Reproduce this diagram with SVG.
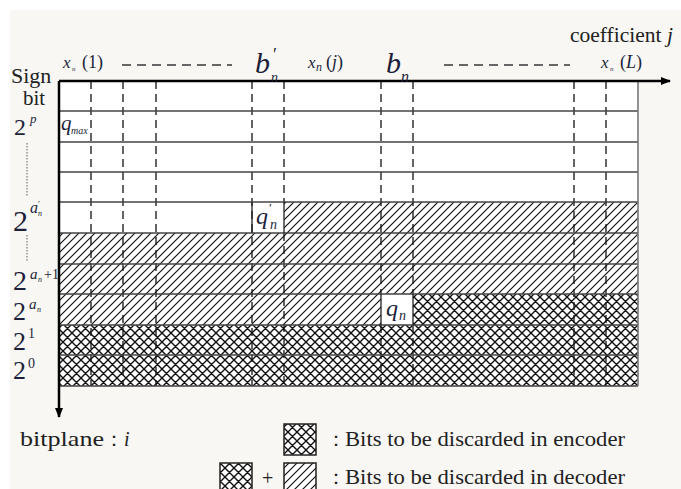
<svg xmlns="http://www.w3.org/2000/svg" width="681" height="489" viewBox="0 0 681 489">
<style>
text{font-family:"Liberation Serif","Times New Roman",serif;fill:#222}
.it{font-style:italic}
.lbl{fill:#1d1f3a}
.row{stroke:#444;stroke-width:1.6;fill:none}
.col{stroke:#111;stroke-width:1.3;stroke-dasharray:8 5;fill:none}
.dots{stroke:#777;stroke-width:1.2;stroke-dasharray:1.5 1.5}
.gap{stroke:#666;stroke-width:2;stroke-dasharray:9 6}
</style>
<defs>
<pattern id="hatch" patternUnits="userSpaceOnUse" width="8" height="8">
<rect width="8" height="8" fill="#fff"/>
<path d="M-2,2 L2,-2 M0,8 L8,0 M6,10 L10,6" stroke="#111" stroke-width="1.2"/>
</pattern>
<pattern id="cross" patternUnits="userSpaceOnUse" width="9" height="9">
<rect width="9" height="9" fill="#fff"/>
<path d="M-2,2 L2,-2 M0,9 L9,0 M7,11 L11,7 M-2,7 L2,11 M0,0 L9,9 M7,-2 L11,2" stroke="#111" stroke-width="1.4"/>
</pattern>
<marker id="arr" markerWidth="10" markerHeight="8" refX="9" refY="4" orient="auto" markerUnits="userSpaceOnUse">
<path d="M0,0 L10,4 L0,8 Z" fill="#000"/>
</marker>
</defs>
<rect width="681" height="489" fill="#fff"/>
<rect x="10" y="10" width="671" height="479" fill="#f8f7f3"/>

<g id="grid">
<rect x="59" y="81" width="579" height="305" fill="#fff"/>
<rect x="284" y="202" width="354" height="31" fill="url(#hatch)"/>
<rect x="59" y="233" width="579" height="61" fill="url(#hatch)"/>
<rect x="59" y="294" width="322" height="31" fill="url(#hatch)"/>
<rect x="413" y="294" width="225" height="31" fill="url(#cross)"/>
<rect x="59" y="325" width="579" height="61" fill="url(#cross)"/>
<path class="col" d="M91,81V386 M123,81V386 M156,81V386 M252,81V386 M284,81V202 M284,233V386 M381,81V294 M381,325V386 M413,81V294 M413,325V386 M574,81V386 M606,81V386"/>
<path class="row" d="M59,111H638 M59,142H638 M59,172H638 M59,202H638 M59,233H638 M59,264H638 M59,294H638 M59,325H638 M59,355H638 M59,386H638"/>
<path d="M252,202V233 M284,202V233 M381,294V325 M413,294V325" stroke="#222" stroke-width="1.3"/>
<path d="M638,81V386" stroke="#777" stroke-width="1.6"/>
</g>

<g id="axes">
<path d="M59,81H670" stroke="#000" stroke-width="2.5" marker-end="url(#arr)"/>
<path d="M59,81V417" stroke="#000" stroke-width="2.5" marker-end="url(#arr)"/>
</g>

<g id="cell-labels">
<text x="61" y="130" font-size="21" class="it lbl">q</text>
<text x="71" y="134" font-size="10" class="it lbl">max</text>
<text x="256" y="224" font-size="24" class="it lbl">q</text>
<text x="269" y="212" font-size="13" class="lbl">′</text>
<text x="270" y="229" font-size="14" class="it lbl">n</text>
<text x="386" y="316" font-size="24" class="it lbl">q</text>
<text x="399" y="320" font-size="14" class="it lbl">n</text>
</g>

<g id="top-labels">
<text x="63" y="68" font-size="17" class="it lbl">x</text>
<text x="72" y="71" font-size="7" class="it lbl">n</text>
<text x="82" y="68" font-size="18" class="lbl">(1)</text>
<path class="gap" d="M122,65H232"/>
<text x="255" y="73" font-size="30" class="it lbl">b</text>
<text x="273" y="61" font-size="18" class="lbl">′</text>
<text x="271" y="82" font-size="14" class="it lbl">n</text>
<text x="308" y="68" font-size="17" class="it lbl">x</text>
<text x="316" y="71" font-size="12" class="it lbl">n</text>
<text x="326" y="68" font-size="18" class="lbl">(<tspan class="it">j</tspan>)</text>
<text x="386" y="73" font-size="30" class="it lbl">b</text>
<text x="401" y="82" font-size="16" class="it lbl">n</text>
<path class="gap" d="M444,65H570"/>
<text x="601" y="68" font-size="17" class="it lbl">x</text>
<text x="610" y="71" font-size="7" class="it lbl">n</text>
<text x="620" y="68" font-size="18" class="lbl">(<tspan class="it">L</tspan>)</text>
<text x="570" y="42" font-size="21.5">coefficient <tspan class="it">j</tspan></text>
</g>

<g id="left-labels">
<text x="11" y="83" font-size="22">Sign</text>
<text x="23" y="105" font-size="21">bit</text>
<text x="14" y="135" font-size="24" class="lbl">2</text>
<text x="30" y="123" font-size="13" class="it lbl">p</text>
<path class="dots" d="M27,143V197 M27,235V262"/>
<text x="13" y="231" font-size="30" class="lbl">2</text>
<text x="30" y="213" font-size="16" class="it lbl">a</text>
<text x="38" y="207" font-size="9" class="lbl">′</text>
<text x="38" y="216" font-size="8" class="it lbl">n</text>
<text x="13" y="290" font-size="28" class="lbl">2</text>
<text x="30" y="279" font-size="15" class="it lbl">a</text>
<text x="38" y="282" font-size="8" class="it lbl">n</text>
<text x="44" y="279" font-size="14" class="lbl">+1</text>
<text x="13" y="320" font-size="26" class="lbl">2</text>
<text x="29" y="309" font-size="15" class="it lbl">a</text>
<text x="37" y="312" font-size="8" class="it lbl">n</text>
<text x="13" y="350" font-size="26" class="lbl">2</text>
<text x="28" y="338" font-size="14" class="lbl">1</text>
<text x="13" y="379" font-size="26" class="lbl">2</text>
<text x="28" y="368" font-size="14" class="lbl">0</text>
</g>

<g id="legend">
<text x="20" y="446" font-size="22" textLength="84" lengthAdjust="spacingAndGlyphs">bitplane</text>
<text x="104" y="446" font-size="20">：<tspan class="it">i</tspan></text>
<rect x="284" y="424" width="32" height="31" fill="url(#cross)" stroke="#222" stroke-width="1.5"/>
<text x="326" y="446" font-size="20">：</text>
<text x="345" y="446" font-size="22" textLength="280" lengthAdjust="spacingAndGlyphs">Bits to be discarded in encoder</text>
<rect x="220" y="463" width="32" height="31" fill="url(#cross)" stroke="#222" stroke-width="1.5"/>
<text x="262" y="485" font-size="20">+</text>
<rect x="284" y="463" width="32" height="31" fill="url(#hatch)" stroke="#222" stroke-width="1.5"/>
<text x="326" y="484" font-size="20">：</text>
<text x="345" y="484" font-size="22" textLength="280" lengthAdjust="spacingAndGlyphs">Bits to be discarded in decoder</text>
</g>
</svg>
